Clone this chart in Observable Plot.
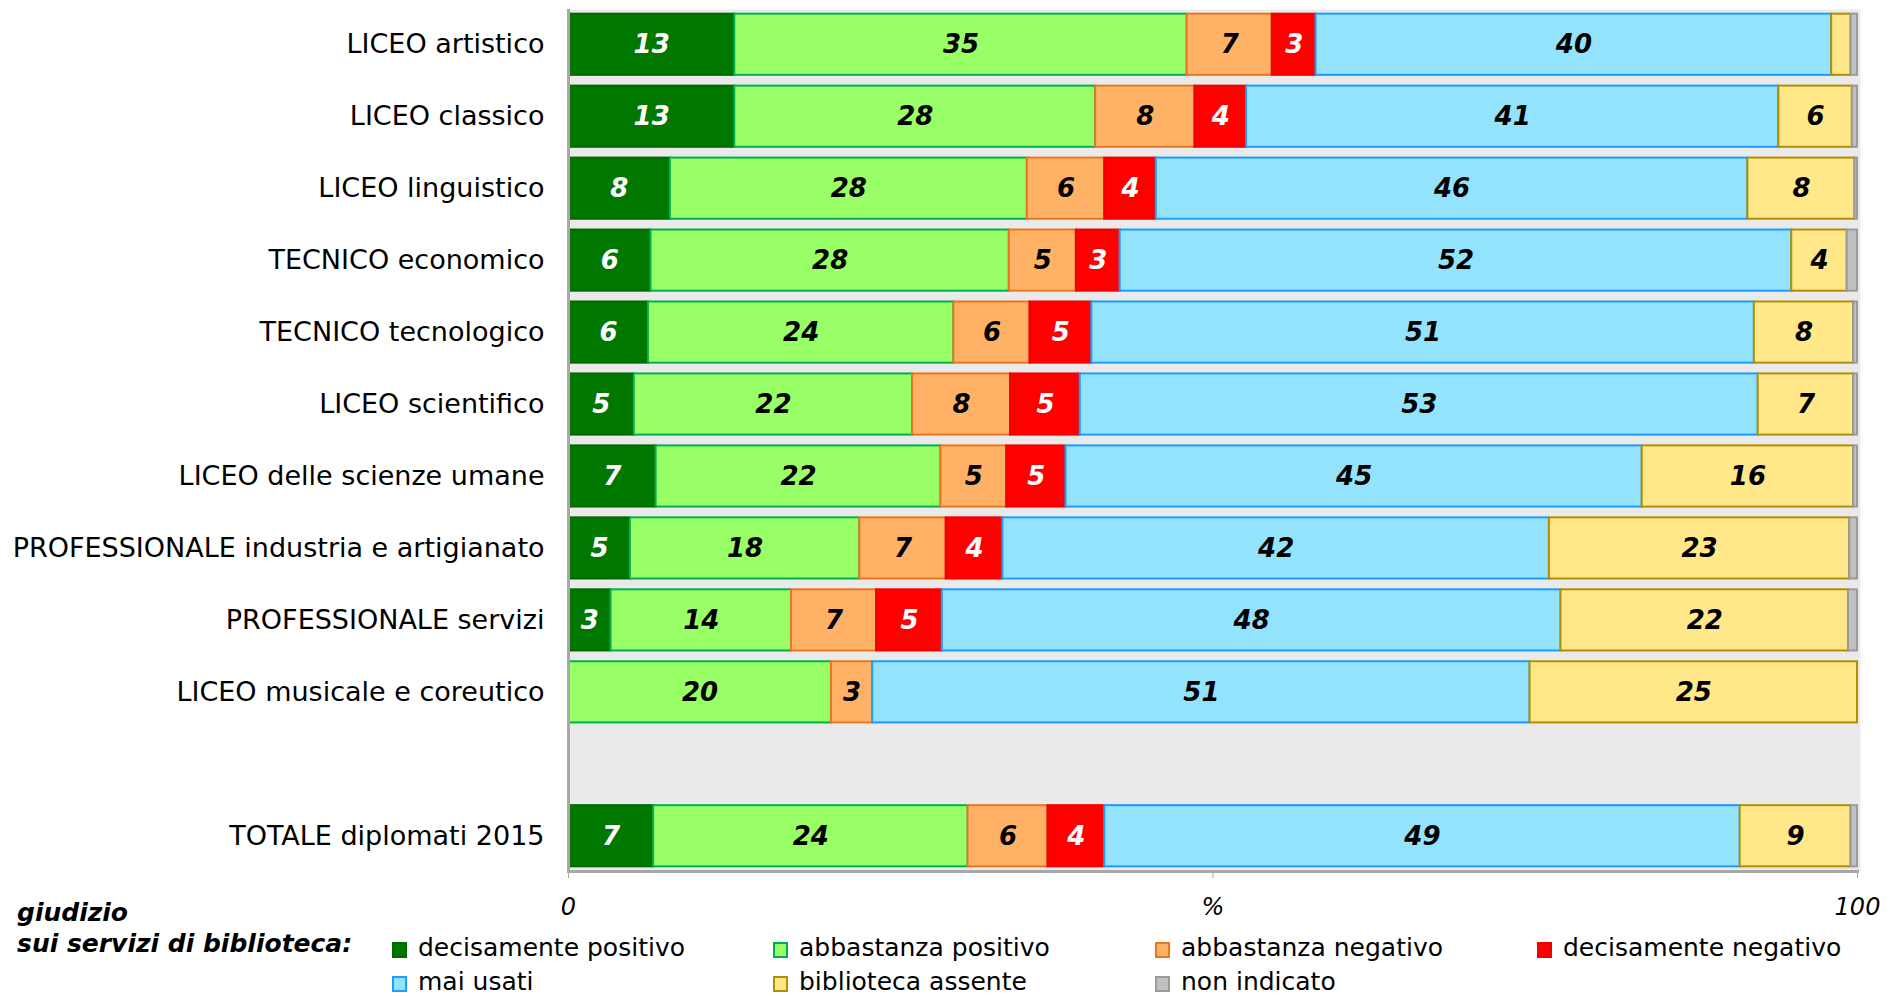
<!DOCTYPE html>
<html><head><meta charset="utf-8">
<script src="https://cdn.jsdelivr.net/npm/d3@7"></script>
<script src="https://cdn.jsdelivr.net/npm/@observablehq/plot@0.6"></script>
<style>
body{margin:0;background:#fff;font-family:"DejaVu Sans",sans-serif;}
#wrap{position:relative;width:1890px;height:996px;}
#wrap svg{position:absolute;left:0;top:0;}
.lg{position:absolute;font-size:25px;line-height:24px;white-space:nowrap;color:#000;}
.sw{position:absolute;width:11px;height:12px;border:2px solid;}
.ttl{font-weight:bold;font-style:italic;}
</style></head><body><div id="wrap"></div>
<script>
const categories = [
  "LICEO artistico", "LICEO classico", "LICEO linguistico", "TECNICO economico",
  "TECNICO tecnologico", "LICEO scientifico", "LICEO delle scienze umane",
  "PROFESSIONALE industria e artigianato", "PROFESSIONALE servizi",
  "LICEO musicale e coreutico", "TOTALE diplomati 2015"
];
const seriesNames = [
  "decisamente positivo", "abbastanza positivo", "abbastanza negativo",
  "decisamente negativo", "mai usati", "biblioteca assente", "non indicato"
];
const decisPositivo = [12.9, 12.9, 7.9, 6.4, 6.2, 5.1, 6.8, 4.8, 3.3, 0, 6.6];
const abbPositivo   = [35.1, 28.0, 27.7, 27.8, 23.7, 21.6, 22.1, 17.8, 14.0, 20.4, 24.4];
const abbNegativo   = [6.6, 7.7, 6.0, 5.2, 5.9, 7.6, 5.1, 6.7, 6.6, 3.2, 6.2];
const decisNegativo = [3.4, 4.0, 4.0, 3.4, 4.8, 5.4, 4.6, 4.4, 5.1, 0, 4.4];
const maiUsati      = [40.0, 41.3, 45.9, 52.1, 51.4, 52.6, 44.7, 42.4, 48.0, 51.0, 49.3];
const bibAssente    = [1.5, 5.7, 8.3, 4.3, 7.7, 7.4, 16.4, 23.3, 22.3, 25.4, 8.6];
const nonIndicato   = [0.5, 0.4, 0.2, 0.8, 0.3, 0.3, 0.3, 0.6, 0.7, 0, 0.5];
const seriesValues = [decisPositivo, abbPositivo, abbNegativo, decisNegativo, maiUsati, bibAssente, nonIndicato];

const fillColors   = ["#007800", "#99ff66", "#ffb266", "#ff0000", "#94e3fd", "#ffe78a", "#c0c0c0"];
const strokeColors = ["#006a00", "#00b050", "#e87722", "#f00000", "#1e9bff", "#b09000", "#9a9a9a"];
const textColors   = ["#ffffff", "#000000", "#000000", "#ffffff", "#000000", "#000000", "#000000"];

const xTickValues = [0, 50, 100];
const xTickLabels = ["0", "%", "100"];
const legendTitle = ["giudizio", "sui servizi di biblioteca:"];

const spacer = " ";
const yDomain = [...categories.slice(0, 10), spacer, categories[10]];

const rows = [];
categories.forEach((c, ci) => {
  seriesNames.forEach((s, si) => {
    const v = seriesValues[si][ci];
    if (v > 0) rows.push({cat: c, series: si, value: v});
  });
});

const chart = Plot.plot({
  width: 1890, height: 921,
  marginLeft: 568, marginRight: 33, marginTop: 9, marginBottom: 50,
  style: {fontFamily: '"DejaVu Sans", sans-serif', fontSize: "27px", background: "transparent", color: "black", overflow: "visible"},
  x: {domain: [0, 100]},
  y: {domain: yDomain, paddingInner: 0.15, paddingOuter: 0.065, round: false},
  color: {type: "identity"},
  marks: [
    Plot.frame({fill: "#eaeaea", insetRight: -3}),
    Plot.barX(rows, Plot.stackX({
      x: "value", y: "cat",
      fill: d => fillColors[d.series], stroke: d => strokeColors[d.series], strokeWidth: 2
    })),
    Plot.text(rows, Plot.stackX({
      x: "value", y: "cat",
      text: d => d.value >= 2 ? String(Math.round(d.value)) : "",
      fill: d => textColors[d.series],
      fontSize: 26, fontWeight: "bold", fontStyle: "italic"
    })),
    Plot.ruleX([0], {stroke: "#a8a8a8", strokeWidth: 3}),
    Plot.frame({anchor: "bottom", stroke: "#a8a8a8", strokeWidth: 3}),
    Plot.axisY({tickSize: 0, tickPadding: 24, fontSize: 27, tickFormat: d => d.trim() ? d : "", label: null}),
    Plot.axisX({
      ticks: xTickValues, tickFormat: d => xTickLabels[xTickValues.indexOf(d)],
      tickSize: 7, tickPadding: 19, fontSize: 24, fontStyle: "italic",
      stroke: "#a8a8a8", fill: "black", label: null
    })
  ]
});

const wrap = document.getElementById("wrap");
wrap.appendChild(chart);

// legend (HTML, below the plot area)
const legend = document.createElement("div");
legend.style.position = "absolute"; legend.style.left = "0"; legend.style.top = "0";
legend.style.width = "1890px";
wrap.appendChild(legend);

legendTitle.forEach((t, i) => {
  const d = document.createElement("div");
  d.className = "lg ttl";
  d.style.left = "17px"; d.style.top = (901 + i * 31) + "px";
  d.textContent = t;
  legend.appendChild(d);
});
const colX = [392, 773, 1155, 1537];
const rowTop = [936, 970];
seriesNames.forEach((s, i) => {
  const x = colX[i % 4], y = rowTop[Math.floor(i / 4)];
  const sw = document.createElement("div");
  sw.className = "sw";
  sw.style.left = x + "px"; sw.style.top = (y + 6) + "px";
  sw.style.background = fillColors[i]; sw.style.borderColor = strokeColors[i];
  legend.appendChild(sw);
  const t = document.createElement("div");
  t.className = "lg";
  t.style.left = (x + 26) + "px"; t.style.top = y + "px";
  t.textContent = s;
  legend.appendChild(t);
});
</script></body></html>
